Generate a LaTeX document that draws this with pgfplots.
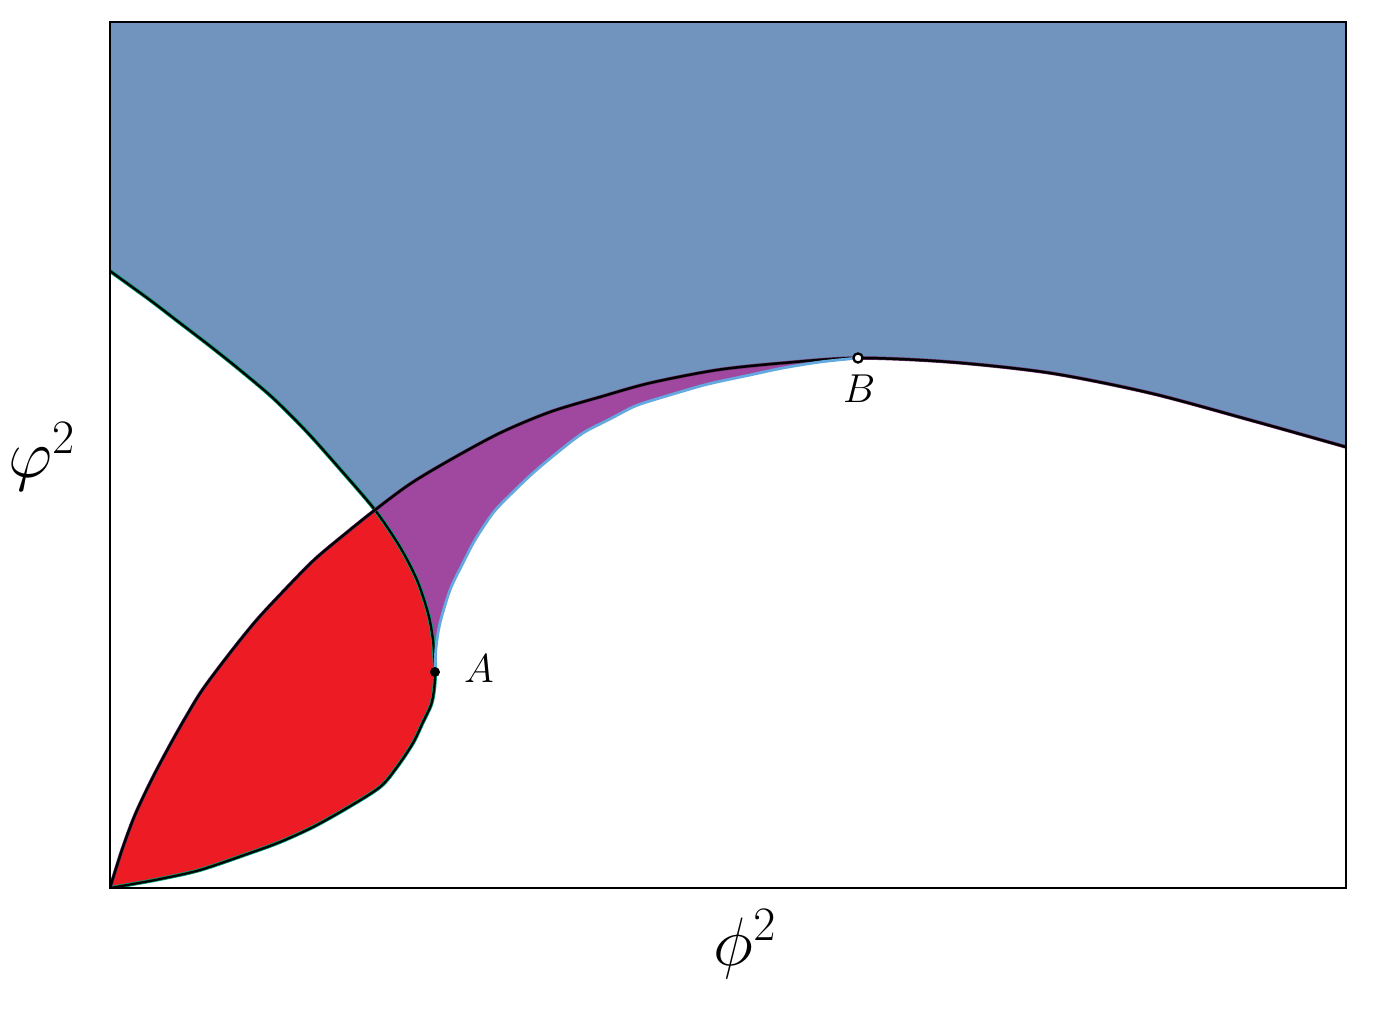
\RequirePackage{fix-cm}
\documentclass[border=0pt]{standalone}
\usepackage{pgfplots}
\pgfplotsset{compat=1.18}
\usepackage{pgfplotstable}

\definecolor{regblue}{RGB}{113,148,190}
\definecolor{regpurple}{RGB}{160,72,160}
\definecolor{regred}{RGB}{237,28,36}
\definecolor{lineblue}{RGB}{100,170,225}
\definecolor{linegreen}{RGB}{0,160,120}

% curves (pixel-like units, y grows downwards)
% first curve: left edge -> crossing point -> A -> origin
\pgfplotstableread{
x y
110 271
150 300
180 323
210 346
240 370
273 398
307 432
340 469
375 510
400 547
417 580
428 613
433 640
435 672
434 690
431 705
423 722
413 743
397 767
380 787
347 808
313 827
280 842
250 853
200 870
160 879
133 884
110 888
}\curveone

% second curve: origin -> crossing point -> B -> right edge
\pgfplotstableread{
x y
110 888
122 850
135 815
152 779
170 745
187 715
203 689
230 653
255 622
277 598
313 561
345 534
375 510
410 484
450 460
500 433
550 412
600 397
650 383
717 370
783 363
858 358
950 362
1050 373
1150 393
1250 420
1346 447
}\curvetwo

% third curve: A -> B
\pgfplotstableread{
x y
435 672
436 648
440 623
450 590
462 565
475 540
493 513
510 495
533 473
558 452
583 433
610 419
633 407
650 401
697 387
717 382
750 375
783 368
820 362
858 358
}\curvethree

\begin{document}
\begin{tikzpicture}
\begin{axis}[
  scale only axis,
  width=24.72cm, height=17.32cm,
  xmin=110, xmax=1346,
  ymin=22, ymax=888,
  y dir=reverse,
  xtick=\empty, ytick=\empty,
  axis line style={line width=0.9pt},
  axis on top,
]
  % blue region
  \addplot[fill=regblue, draw=none] coordinates {
    (110,22) (110,271) (150,300) (180,323) (210,346) (240,370) (273,398)
    (307,432) (340,469) (375,510) (410,484) (450,460) (500,433) (550,412)
    (600,397) (650,383) (717,370) (783,363) (858,358) (950,362) (1050,373)
    (1150,393) (1250,420) (1346,447) (1346,22) (110,22)
  };
  % purple region
  \addplot[fill=regpurple, draw=none] coordinates {
    (375,510) (410,484) (450,460) (500,433) (550,412) (600,397) (650,383)
    (717,370) (783,363) (858,358) (820,362) (783,368) (750,375) (717,382)
    (697,387) (650,401) (633,407) (610,419) (583,433) (558,452) (533,473)
    (510,495) (493,513) (475,540) (462,565) (450,590) (440,623) (436,648)
    (435,672) (433,640) (428,613) (417,580) (400,547) (375,510)
  };
  % red region
  \addplot[fill=regred, draw=none] coordinates {
    (110,888) (122,850) (135,815) (152,779) (170,745) (187,715) (203,689)
    (230,653) (255,622) (277,598) (313,561) (345,534) (375,510) (400,547)
    (417,580) (428,613) (433,640) (435,672) (434,690) (431,705) (423,722)
    (413,743) (397,767) (380,787) (347,808) (313,827) (280,842) (250,853)
    (200,870) (160,879) (133,884) (110,888)
  };

  \addplot[linegreen, line width=2.2pt, smooth, tension=0.5] table {\curveone};
  \addplot[black, line width=1.3pt, smooth, tension=0.5] table {\curveone};
  \addplot[regpurple!70!black, line width=2pt, smooth, tension=0.5] table {\curvetwo};
  \addplot[black, line width=1.4pt, smooth, tension=0.5] table {\curvetwo};
  \addplot[lineblue, line width=1.6pt, smooth, tension=0.5] table {\curvethree};

  \addplot[only marks, mark=*, mark size=2.6pt, black] coordinates {(435,672)};
  \addplot[only marks, mark=*, mark size=2.6pt,
    mark options={fill=white, draw=black, line width=1.3pt}] coordinates {(858,358)};

  \node[anchor=base west, font=\fontsize{23}{27}\selectfont] at (axis cs:458,682) {$A$};
  \node[anchor=base west, font=\fontsize{23}{27}\selectfont] at (axis cs:837,403) {$B$};
\end{axis}
\node[anchor=base west, font=\fontsize{39}{45}\selectfont] at (-2.16cm,8.2cm) {$\varphi^2$};
\node[anchor=base, font=\fontsize{39}{45}\selectfont] at (12.7cm,-1.54cm) {$\phi^2$};
\path (-2.2cm,-2.8cm) rectangle (25.32cm,17.76cm);
\end{tikzpicture}
\end{document}
